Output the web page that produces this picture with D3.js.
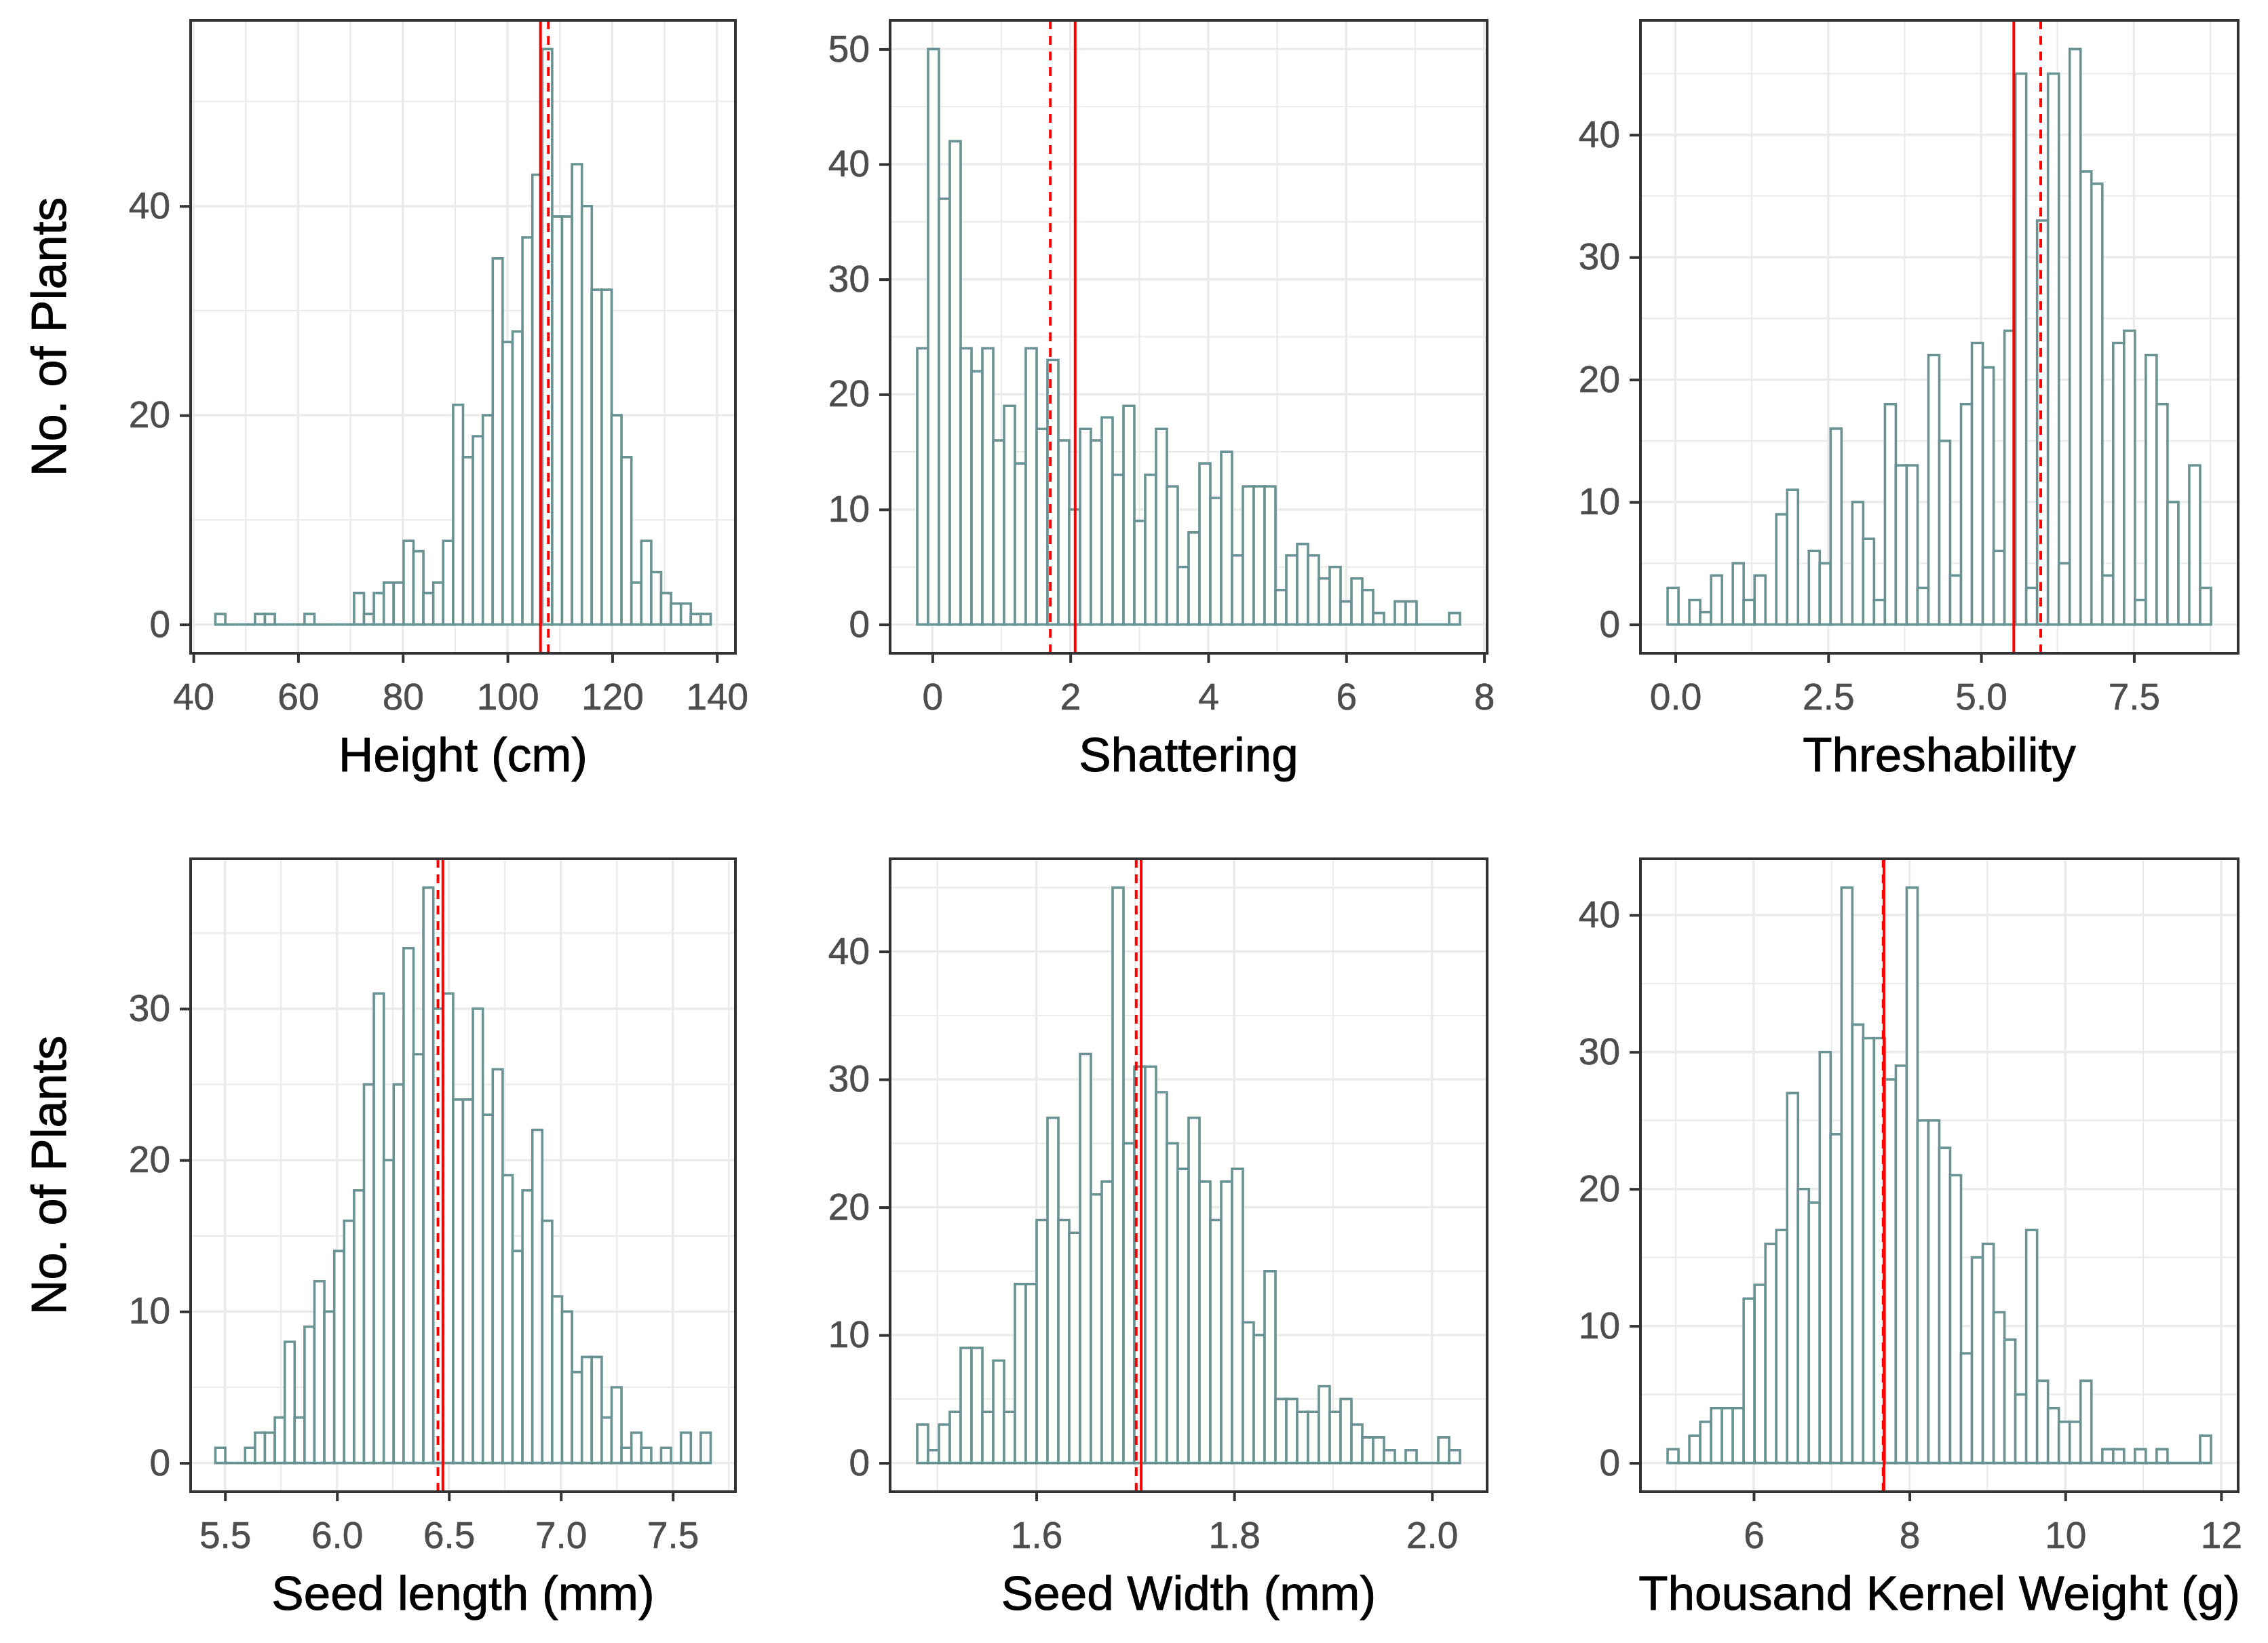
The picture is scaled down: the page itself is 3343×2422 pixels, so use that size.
<!DOCTYPE html>
<html>
<head>
<meta charset="utf-8">
<script src="https://cdn.jsdelivr.net/npm/d3@7"></script>
<style>
  body { margin: 0; background: #fff; }
  svg { display: block; }
  text { font-family: Arial, "Liberation Sans", sans-serif; }
</style>
</head>
<body>
<div id="chart-area"></div>
<script>
// histogram counts, 50 bins each
var heightCounts = [1,0,0,0,1,1,0,0,0,1, 0,0,0,0,3,1,3,4,4,8, 7,3,4,8,21,16,18,20,35,27,
	28,37,43,55,39,39,44,40,32,32, 20,16,4,8,5,3,2,2,1,1];
var shatterCounts = [24,50,37,42,24,22,24,16,19,14, 24,17,23,16,10,17,16,18,13,19, 9,13,17,12,5,8,14,11,15,6,
	12,12,12,3,6,7,6,4,5,2, 4,3,1,0,2,2,0,0,0,1];
var threshCounts = [3,0,2,1,4,0,5,2,4,0, 9,11,0,6,5,16,0,10,7,2, 18,13,13,3,22,15,4,18,23,21,
	6,24,45,3,33,45,5,47,37,36, 4,23,24,2,22,18,10,0,13,3];
var seedLenCounts = [1,0,0,1,2,2,3,8,3,9, 12,10,14,16,18,25,31,20,25,34, 27,38,30,31,24,24,30,23,26,19,
	14,18,22,16,11,10,6,7,7,3, 5,1,2,1,0,1,0,2,0,2];
var seedWidCounts = [3,1,3,4,9,9,4,8,4,14, 14,19,27,19,18,32,21,22,45,25, 31,31,29,25,23,27,22,19,22,23,
	11,10,15,5,5,4,4,6,4,5, 3,2,2,1,0,1,0,0,2,1];
var tkwCounts = [1,0,2,3,4,4,4,12,13,16, 17,27,20,19,30,24,42,32,31,31, 28,29,42,25,25,23,21,8,15,16,
	11,9,5,17,6,4,3,3,6,0, 1,1,0,1,0,1,0,0,0,2];

// left edge of first bin and right edge of last bin
var binStarts = [44.2, -0.22, -0.127, 5.457, 1.4796, 4.895];
var binEnds   = [138.8, 7.65, 8.76, 7.669, 2.0283, 11.87];

// reference lines: mean (solid) and median (dashed)
var means   = [106.3, 2.07, 5.535, 6.473, 1.706, 7.672];
var medians = [107.8, 1.71, 5.975, 6.451, 1.701, 7.662];

var xTitles = ["Height (cm)", "Shattering", "Threshability",
	"Seed length (mm)", "Seed Width (mm)", "Thousand Kernel Weight (g)"];
var yTitle = "No. of Plants";

var xTicks = [[40,60,80,100,120,140], [0,2,4,6,8], [0,2.5,5,7.5],
	[5.5,6,6.5,7,7.5], [1.6,1.8,2.0], [6,8,10,12]];
var yTicks = [[0,20,40], [0,10,20,30,40,50], [0,10,20,30,40],
	[0,10,20,30], [0,10,20,30,40], [0,10,20,30,40]];
var xFormats = ["d", "d", ".1f", ".1f", ".1f", "d"];

var allCounts = [heightCounts, shatterCounts, threshCounts, seedLenCounts, seedWidCounts, tkwCounts];

//layout
var W = 3343, H = 2422;
var cols = [[281, 1084], [1312, 2192], [2418, 3299]];
var rows = [[30, 963], [1266, 2199]];

var barColor = "#6A9393",
	gridColor = "#EBEBEB",
	inkColor = "#333333",
	tickText = "#4D4D4D";

var svg = d3.select("#chart-area")
	.append("svg")
		.attr("width", W)
		.attr("height", H);

svg.append("rect").attr("width", W).attr("height", H).attr("fill", "#fff");

// minor breaks half way between the major ones (like ggplot)
function minorBreaks(major, domain) {
	var step = major[1] - major[0];
	var out = [];
	for (var i = -1; i < major.length; i++) {
		var v = major[0] + (i + 0.5) * step;
		if (v >= domain[0] && v <= domain[1]) out.push(v);
	}
	return out;
}

function expand(lo, hi) {
	var pad = (hi - lo) * 0.05;
	return [lo - pad, hi + pad];
}

allCounts.forEach(function(counts, p) {
	var c = cols[p % 3], r = rows[Math.floor(p / 3)];
	var pw = c[1] - c[0], ph = r[1] - r[0];

	var g = svg.append("g")
		.attr("transform", "translate(" + c[0] + ", " + r[0] + ")");

	var bw = (binEnds[p] - binStarts[p]) / counts.length;

	var x = d3.scaleLinear()
		.domain(expand(binStarts[p], binEnds[p]))
		.range([0, pw]);

	var y = d3.scaleLinear()
		.domain(expand(0, d3.max(counts)))
		.range([ph, 0]);

	//grid
	var grid = g.append("g").attr("fill", "none").attr("stroke", gridColor);
	minorBreaks(xTicks[p], x.domain()).forEach(function(v){
		grid.append("line").attr("x1", x(v)).attr("x2", x(v)).attr("y1", 0).attr("y2", ph)
			.attr("stroke-width", 2.2);
	});
	minorBreaks(yTicks[p], y.domain()).forEach(function(v){
		grid.append("line").attr("y1", y(v)).attr("y2", y(v)).attr("x1", 0).attr("x2", pw)
			.attr("stroke-width", 2.2);
	});
	xTicks[p].forEach(function(v){
		grid.append("line").attr("x1", x(v)).attr("x2", x(v)).attr("y1", 0).attr("y2", ph)
			.attr("stroke-width", 3.4);
	});
	yTicks[p].forEach(function(v){
		grid.append("line").attr("y1", y(v)).attr("y2", y(v)).attr("x1", 0).attr("x2", pw)
			.attr("stroke-width", 3.4);
	});

	//bars (paths so that empty bins still draw their baseline)
	g.append("g").selectAll("path")
		.data(counts)
		.enter()
		.append("path")
			.attr("d", function(d, i){
				var x0 = x(binStarts[p] + i * bw), x1 = x(binStarts[p] + (i + 1) * bw);
				return "M" + x0 + "," + y(0) + "V" + y(d) + "H" + x1 + "V" + y(0) + "Z";
			})
			.attr("fill", "#fff")
			.attr("stroke", barColor)
			.attr("stroke-width", 3.6);

	//mean and median
	g.append("line")
		.attr("x1", x(means[p])).attr("x2", x(means[p]))
		.attr("y1", 0).attr("y2", ph)
		.attr("stroke", "#FF0000").attr("stroke-width", 4);
	g.append("line")
		.attr("x1", x(medians[p])).attr("x2", x(medians[p]))
		.attr("y1", 0).attr("y2", ph)
		.attr("stroke", "#FF0000").attr("stroke-width", 4)
		.attr("stroke-dasharray", "13,10");

	//axes
	var xAxisCall = d3.axisBottom(x)
		.tickValues(xTicks[p])
		.tickSize(14)
		.tickPadding(30)
		.tickFormat(d3.format(xFormats[p]));
	var xa = g.append("g")
		.attr("transform", "translate(0, " + ph + ")")
		.call(xAxisCall);

	var yAxisCall = d3.axisLeft(y)
		.tickValues(yTicks[p])
		.tickSize(16)
		.tickPadding(14)
		.tickFormat(d3.format("d"));
	var ya = g.append("g").call(yAxisCall);

	[xa, ya].forEach(function(a){
		a.select(".domain").remove();
		a.selectAll(".tick line").attr("stroke", inkColor).attr("stroke-width", 4);
		a.selectAll(".tick text")
			.attr("fill", tickText)
			.attr("stroke", tickText)
			.attr("stroke-width", 0.6)
			.attr("font-size", 55)
			.attr("font-family", "Arial, Liberation Sans, sans-serif");
	});

	//panel border
	g.append("rect")
		.attr("width", pw).attr("height", ph)
		.attr("fill", "none")
		.attr("stroke", inkColor)
		.attr("stroke-width", 4);

	//x title
	g.append("text")
		.attr("x", pw / 2)
		.attr("y", ph + 174)
		.attr("text-anchor", "middle")
		.attr("font-size", 71)
		.attr("fill", "#000")
		.attr("stroke", "#000")
		.attr("stroke-width", 0.9)
		.text(xTitles[p]);

	//y title on first column only
	if (p % 3 == 0) {
		svg.append("text")
			.attr("transform", "translate(97, " + (r[0] + ph / 2) + ") rotate(-90)")
			.attr("text-anchor", "middle")
			.attr("font-size", 72)
			.attr("fill", "#000")
			.attr("stroke", "#000")
			.attr("stroke-width", 0.9)
			.text(yTitle);
	}
});
</script>
</body>
</html>
